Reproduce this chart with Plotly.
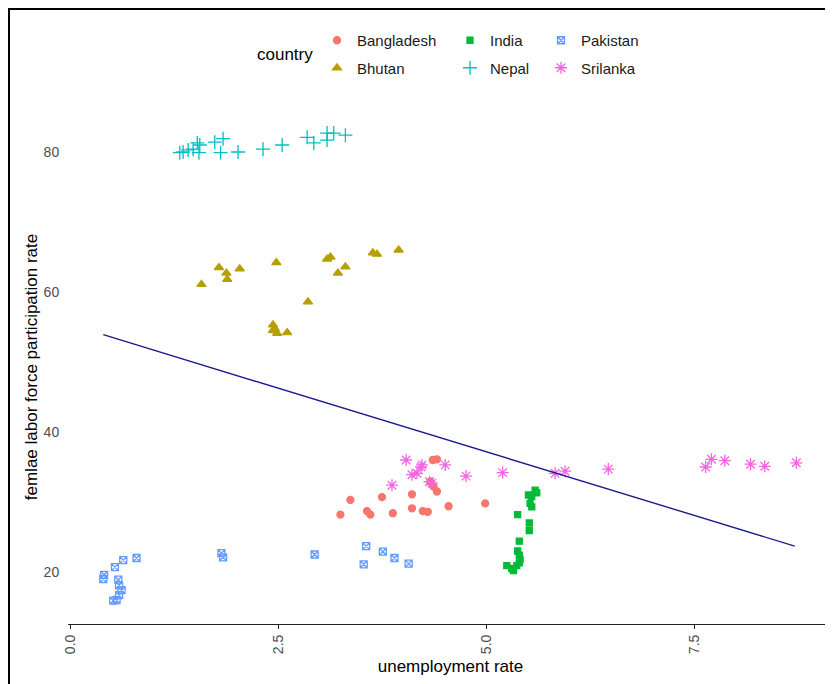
import plotly.graph_objects as go

# ---- data ----
bangladesh_x = [3.25, 3.37, 3.57, 3.61, 3.75, 3.88, 4.11, 4.11, 4.24, 4.30, 4.36, 4.41, 4.37, 4.41, 4.55, 4.99, 4.33]
bangladesh_y = [28.2, 30.3, 28.7, 28.2, 30.7, 28.4, 31.1, 29.1, 28.7, 28.6, 36.0, 36.1, 32.2, 31.5, 29.4, 29.8, 32.9]

bhutan_x = [1.58, 1.79, 1.88, 1.89, 2.04, 2.48, 2.44, 2.46, 2.44, 2.49, 2.61, 2.86, 3.09, 3.13, 3.22, 3.31, 3.64, 3.69, 3.95]
bhutan_y = [61.1, 63.5, 62.7, 61.8, 63.3, 64.2, 55.3, 54.8, 54.5, 54.1, 54.2, 58.6, 64.7, 65.0, 62.7, 63.6, 65.6, 65.4, 66.0]

india_x = [5.59, 5.61, 5.51, 5.55, 5.53, 5.55, 5.38, 5.52, 5.52, 5.40, 5.38, 5.40, 5.41, 5.40, 5.37, 5.31, 5.25, 5.33]
india_y = [31.7, 31.3, 31.0, 30.8, 29.8, 29.3, 28.2, 27.0, 25.9, 24.4, 23.0, 22.4, 21.8, 21.3, 20.9, 20.5, 20.9, 20.2]

nepal_x = [1.32, 1.36, 1.42, 1.48, 1.53, 1.56, 1.55, 1.74, 1.84, 1.81, 2.02, 2.32, 2.55, 2.85, 2.93, 3.09, 3.09, 3.17, 3.31]
nepal_y = [79.9, 80.0, 80.3, 80.4, 81.3, 81.0, 79.9, 81.4, 81.9, 79.9, 80.0, 80.4, 81.0, 82.1, 81.3, 82.7, 81.7, 82.7, 82.4]

pakistan_x = [0.40, 0.41, 0.54, 0.64, 0.80, 0.58, 0.59, 0.62, 0.59, 0.56, 0.52, 1.82, 1.84, 2.94, 3.56, 3.53, 3.76, 3.90, 4.07]
pakistan_y = [19.0, 19.6, 20.7, 21.7, 22.0, 18.9, 18.1, 17.4, 16.7, 16.0, 15.9, 22.7, 22.1, 22.5, 23.7, 21.1, 22.9, 22.0, 21.2]

srilanka_x = [3.87, 4.04, 4.11, 4.17, 4.22, 4.23, 4.32, 4.35, 4.51, 4.76, 5.20, 5.83, 5.95, 6.47, 7.64, 7.71, 7.87, 8.18, 8.35, 8.73]
srilanka_y = [32.4, 36.0, 33.9, 34.1, 35.0, 35.3, 32.9, 32.7, 35.3, 33.7, 34.2, 34.1, 34.4, 34.7, 35.0, 36.1, 35.9, 35.4, 35.1, 35.6]

trend_x = [0.40, 8.71]
trend_y = [53.9, 23.7]

x_ticks = [0, 2.5, 5, 7.5]
x_tick_text = ["0.0", "2.5", "5.0", "7.5"]
y_ticks = [20, 40, 60, 80]

FONT = "Arial, Liberation Sans, sans-serif"

series = [
    ("Bangladesh", bangladesh_x, bangladesh_y, "#F8766D", "circle", 7, "legend"),
    ("Bhutan", bhutan_x, bhutan_y, "#B79F00", "triangle-up", 8, "legend"),
    ("India", india_x, india_y, "#00BA38", "square", 6, "legend2"),
    ("Nepal", nepal_x, nepal_y, "#00BFC4", "cross-thin-open", 10, "legend2"),
    ("Pakistan", pakistan_x, pakistan_y, "#619CFF", "square-x-open", 7, "legend3"),
    ("Srilanka", srilanka_x, srilanka_y, "#F564E3", "asterisk-open", 10, "legend3"),
]

fig = go.Figure()
for name, xs, ys, col, sym, size, lg in series:
    fig.add_trace(go.Scatter(
        x=xs, y=ys, mode="markers", name=name, legend=lg, legendgroup=name,
        marker=dict(color=col, symbol=sym, size=size,
                    line=dict(color=col, width=1.3)),
    ))

fig.add_trace(go.Scatter(x=trend_x, y=trend_y, mode="lines", showlegend=False,
                         line=dict(color="#1C1C8C", width=1.4)))

# page has an 8px body margin; work in reference-pixel coordinates
OFF = 8
FW, FH = 833 - OFF, 684 - OFF
PL, PR, PT, PB = 68, 833, 110, 624          # plot area in reference pixels
L, R, T, B = PL - OFF, (833 - OFF) - (PR - OFF), PT - OFF, FH - (PB - OFF)
W = FW - L - R
H = FH - T - B

def px2x(px):
    return (px - OFF - L) / W

def py2y(py):
    return (PB - py) / H

leg_common = dict(orientation="v", xanchor="left", yanchor="top",
                  font=dict(family=FONT, size=15, color="#1A1A1A"),
                  bgcolor="rgba(0,0,0,0)", traceorder="grouped", tracegroupgap=5,
                  itemsizing="trace")

fig.update_layout(
    width=FW, height=FH,
    margin=dict(l=L, r=R, t=T, b=B),
    paper_bgcolor="white", plot_bgcolor="white",
    font=dict(family=FONT),
    legend=dict(x=px2x(317), y=py2y(24), **leg_common),
    legend2=dict(x=px2x(450), y=py2y(24), **leg_common),
    legend3=dict(x=px2x(541), y=py2y(24), **leg_common),
    xaxis=dict(range=[(PL - 70) / 83.2, (PR - 70) / 83.2], showgrid=False, zeroline=False,
               showline=True, linecolor="#222222", linewidth=1.2,
               ticks="outside", ticklen=4, tickcolor="#222222", tickwidth=1.2,
               tickvals=x_ticks, ticktext=x_tick_text, tickangle=-90,
               tickfont=dict(family=FONT, size=14, color="#4D4D4D"),
               title=dict(text="unemployment rate", standoff=6,
                          font=dict(family=FONT, size=17, color="black"))),
    yaxis=dict(range=[80 - (PB - 152) / 7, 80 + (152 - PT) / 7], showgrid=False, zeroline=False,
               showline=False, ticks="outside", ticklen=5, tickcolor="rgba(0,0,0,0)",
               tickvals=y_ticks,
               tickfont=dict(family=FONT, size=14, color="#4D4D4D"),
               title=dict(text="femlae labor force participation rate", standoff=1,
                          font=dict(family=FONT, size=17, color="black"))),
    annotations=[dict(text="country", x=px2x(255), y=py2y(55), xref="paper", yref="paper",
                      xanchor="left", yanchor="middle", showarrow=False,
                      font=dict(family=FONT, size=17, color="black"))],
    shapes=[
        dict(type="line", xref="paper", yref="paper", x0=px2x(8), x1=px2x(840),
             y0=py2y(9), y1=py2y(9), line=dict(color="black", width=2)),
        dict(type="line", xref="paper", yref="paper", x0=px2x(9), x1=px2x(9),
             y0=py2y(9), y1=py2y(700), line=dict(color="black", width=2)),
    ],
)

fig.write_html("out.html")
